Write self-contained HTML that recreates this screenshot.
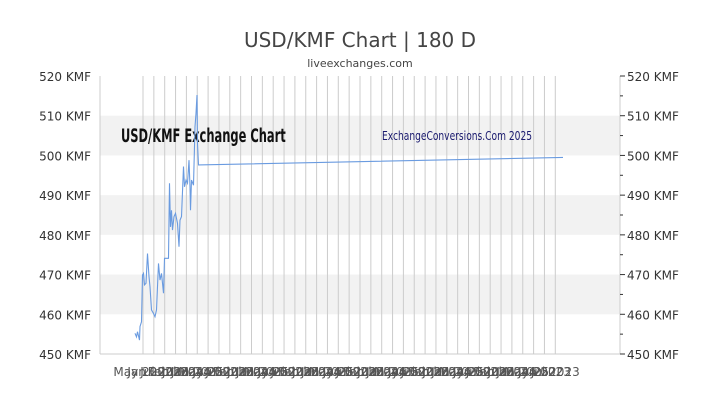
<!DOCTYPE html>
<html><head><meta charset="utf-8"><style>
body{margin:0;background:#fff;}
svg text{font-family:"DejaVu Sans","Liberation Sans",sans-serif;}
</style></head><body>
<svg id="c" width="720" height="405" xmlns="http://www.w3.org/2000/svg">
<text x="360" y="47" text-anchor="middle" font-size="20" fill="#444">USD/KMF Chart | 180 D</text>
<text x="360" y="67" text-anchor="middle" font-size="11" fill="#444">liveexchanges.com</text>
<g id="bands"></g><g id="grid"></g>
<text x="121" y="142" font-size="18.5" font-weight="bold" fill="#111" transform="translate(121 0) scale(0.62 1) translate(-121 0)">USD/KMF Exchange Chart</text>
<text x="382" y="140" font-size="12" fill="#1a1a6e" transform="translate(382 0) scale(0.76 1) translate(-382 0)">ExchangeConversions.Com 2025</text>
<g id="axes"></g><g id="series"></g>
</svg>
<script>
const yTicks=[450,460,470,480,490,500,510,520];
const days=[70,73,75,79,80,83,85,87,89,92,95,98,100,103,107,110,113,117,120,123,127,129,137,139,141,143,145,148,151,155,158,160,163,167,169,172,175,178,180,181,183,187,190,192,194,195,197,926];
const rates=[455.2,454.3,455.6,453.5,456.9,458.1,469.9,470.3,467.4,467.8,475.3,469.5,466.9,461.1,460.2,459.4,461.1,472.8,468.6,470.3,465.3,474.1,474.1,493,482,486.2,481.2,484.6,485.4,482.9,477,483.7,484.6,497.2,492.1,493.8,493,498.8,492.1,486.2,493.8,492.5,507.2,510.6,515.2,503,497.6,499.5];
const xLabels=["May 2022","Jan 2023","Jul 2023","Feb 2024","Jul 2024","Jan 2025"];
const NS="http://www.w3.org/2000/svg";
const L=100,R=620,T=76,B=354,D0=0,D1=1040,Y0=450,Y1=520;
const xs=d=>L+(d-D0)/(D1-D0)*(R-L);
const ys=v=>B-(v-Y0)/(Y1-Y0)*(B-T);
function mk(t,a,p){const e=document.createElementNS(NS,t);for(const k in a)e.setAttribute(k,a[k]);p.appendChild(e);return e;}
const bands=document.getElementById('bands'),grid=document.getElementById('grid'),axes=document.getElementById('axes'),series=document.getElementById('series');
for(let v=460;v<520;v+=20){const r=mk('rect',{x:L,y:ys(v+10),width:R-L,height:ys(v)-ys(v+10),fill:'#f2f2f2'},bands);

}
for(let i=0;i<39;i++){const x=143+i*10.85;const l=mk('line',{x1:x,x2:x,y1:T,y2:B,stroke:'#ccc','stroke-width':1},grid);


const t=mk('text',{x:x,y:376,'text-anchor':'middle','font-size':12,fill:'#555'},grid);t.textContent=i==0?"May 2022":xLabels[i%xLabels.length];

}
mk('line',{x1:L,x2:R,y1:B,y2:B,stroke:'#ccc'},axes);
mk('line',{x1:L,x2:L,y1:T,y2:B,stroke:'#ccc'},axes);
mk('line',{x1:R,x2:R,y1:T,y2:B,stroke:'#ccc'},axes);
yTicks.forEach(v=>{const y=ys(v);
const a=mk('text',{x:91,y:y+5,'text-anchor':'end','font-size':12,fill:'#333'},axes);a.textContent=v+" KMF";


const b=mk('text',{x:627,y:y+5,'font-size':12,fill:'#333'},axes);b.textContent=v+" KMF";


mk('line',{x1:R,x2:R+5,y1:y,y2:y,stroke:'#333'},axes);
if(v<520)mk('line',{x1:R,x2:R+3,y1:ys(v+5),y2:ys(v+5),stroke:'#333'},axes);});
const p=mk('polyline',{points:days.map((d,i)=>xs(d)+','+ys(rates[i])).join(' '),fill:'none',stroke:'#6a9be0','stroke-width':1.1},series);


</script>
</body></html>
